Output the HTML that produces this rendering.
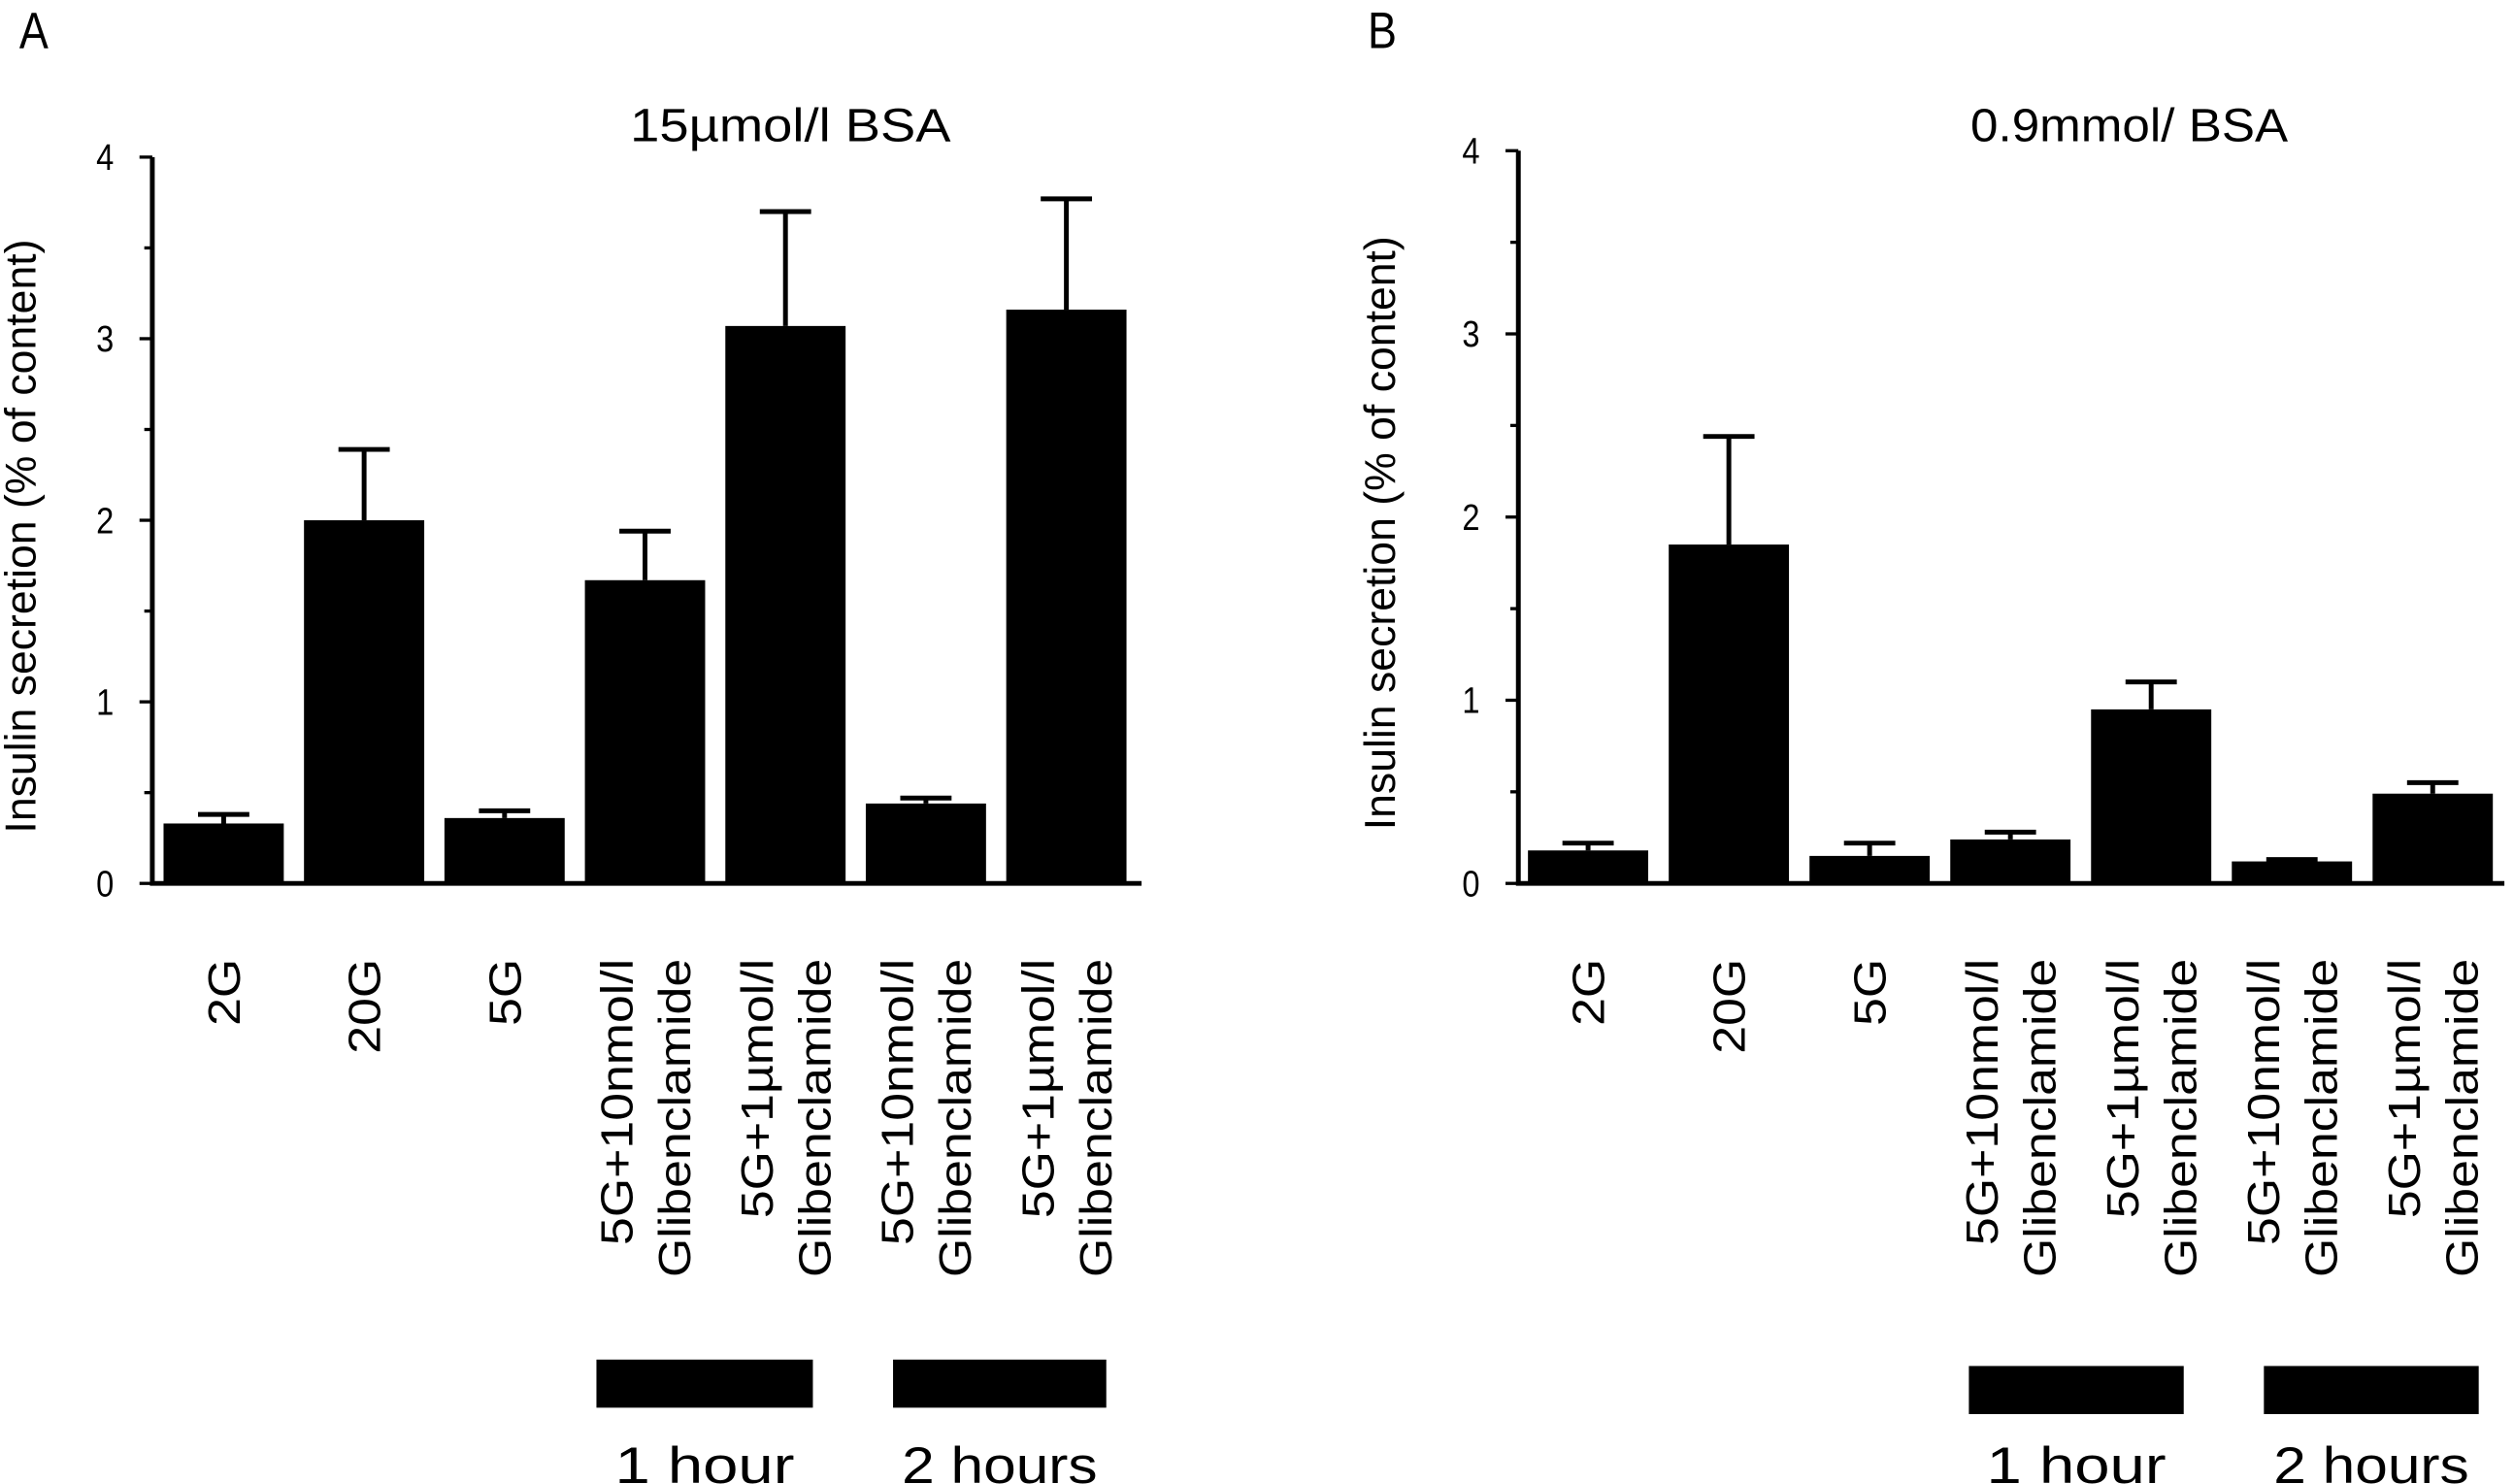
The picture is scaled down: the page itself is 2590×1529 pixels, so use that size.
<!DOCTYPE html>
<html><head><meta charset="utf-8"><style>
html,body{margin:0;padding:0;background:#fff}
svg{display:block}
text{font-family:"Liberation Sans",Arial,sans-serif;fill:#000}
</style></head><body>
<svg id="fig" width="2590" height="1529" viewBox="0 0 1568 925.6" preserveAspectRatio="none" xmlns="http://www.w3.org/2000/svg"></svg>
<script>
const categories = ["2G","20G","5G","5G+10nmol/l|Glibenclamide","5G+1\u00b5mol/l|Glibenclamide","5G+10nmol/l|Glibenclamide","5G+1\u00b5mol/l|Glibenclamide"];
const valuesA = [0.33, 2.0, 0.36, 1.67, 3.07, 0.44, 3.16];
const errorsA = [0.05, 0.39, 0.04, 0.27, 0.63, 0.03, 0.61];
const valuesB = [0.18, 1.85, 0.15, 0.24, 0.95, 0.12, 0.49];
const errorsB = [0.04, 0.59, 0.07, 0.04, 0.15, 0.01, 0.06];
const yTicks = [0, 1, 2, 3, 4];
const yMax = 4;

const NS = "http://www.w3.org/2000/svg";
const svg = document.getElementById("fig");
function mk(tag, attrs, parent) {
  const e = document.createElementNS(NS, tag);
  for (const k in attrs) e.setAttribute(k, attrs[k]);
  (parent || svg).appendChild(e);
  return e;
}

function panel(p) {
  const g = mk("g", {});
  
  
  const yScale = v => p.y0 - (v / yMax) * (p.y0 - p.y4);
  const xScale = i => p.barStart + i * p.step;

  const letter = mk("text", {x: p.letterX, y: 30, "font-size": 32, transform: `translate(${p.letterX},0) scale(0.85,1) translate(${-p.letterX},0)`}, g);
  letter.textContent = p.letter;
  
  

  const t = mk("text", {x: p.titleX - p.titleW / 2, y: 88, "font-size": 29, textLength: p.titleW, lengthAdjust: "spacingAndGlyphs"}, g);
  t.textContent = p.title;
  
  

  p.values.forEach((v, i) => {
    const x = xScale(i);
    const r = mk("rect", {x: x, y: yScale(v), width: p.barW, height: p.y0 - yScale(v), fill: "#000"}, g);
    
    
    const cx = x + p.barW / 2;
    const top = yScale(v + p.errors[i]);
    const eb = mk("path", {d: `M${cx},${yScale(v)}V${top}M${cx-16},${top}H${cx+16}`, stroke: "#000", "stroke-width": 3, fill: "none"}, g);
    
    
  });

  const ax = mk("path", {d: `M${p.axisX},${p.y4}V${p.y0}H${p.xEnd}`, stroke: "#000", "stroke-width": 3, fill: "none"}, g);
  
  
  for (let k = 0; k <= 8; k++) {
    const yy = yScale(k / 2);
    const tk = mk("line", {x1: p.axisX - (k % 2 ? 5 : 8), x2: p.axisX, y1: yy, y2: yy, stroke: "#000", "stroke-width": 2}, g);
    
    
  }
  yTicks.forEach(v => {
    const tl = mk("text", {x: p.axisX - 24, y: yScale(v) + 8, "font-size": 23, "text-anchor": "end", textLength: 11, lengthAdjust: "spacingAndGlyphs"}, g);
    tl.textContent = v;
    
    
  });
  const yt = mk("text", {x: 0, y: 0, "font-size": 27, "text-anchor": "middle", transform: `translate(${p.yTitleX},${(p.y0 + p.y4) / 2 + 10}) rotate(-90)`}, g);
  yt.textContent = "Insulin secretion (% of content)";
  
  

  categories.forEach((c, i) => {
    const cx = xScale(i) + p.barW / 2;
    const lines = c.split("|");
    lines.forEach((ln, j) => {
      const off = lines.length === 1 ? 10 : (j === 0 ? -8 : 28);
      const xl = mk("text", {x: 0, y: 0, "font-size": 28, "text-anchor": "end", transform: `translate(${cx + off},598) rotate(-90) scale(1.12,1)`}, g);
      xl.textContent = ln;
      
      
    });
  });

  p.timeBars.forEach((tb, k) => {
    const r = mk("rect", {x: tb[0], y: p.tbY, width: tb[1] - tb[0], height: 30, fill: "#000"}, g);
    
    
    const w = k === 0 ? 112 : 122;
    const tt = mk("text", {x: (tb[0] + tb[1]) / 2 - w / 2, y: 925, "font-size": 32, textLength: w, lengthAdjust: "spacingAndGlyphs"}, g);
    tt.textContent = k === 0 ? "1 hour" : "2 hours";
    
    
  });
}

panel({key: "a", letter: "A", letterX: 12, title: "15\u00b5mol/l BSA", titleX: 493, titleW: 200,
  axisX: 95, y0: 551, y4: 98, xEnd: 712, barStart: 102, step: 87.6, barW: 75,
  values: valuesA, errors: errorsA, yTitleX: 22, tbY: 848,
  timeBars: [[372, 507], [557, 690]]});
panel({key: "b", letter: "B", letterX: 853, title: "0.9mmol/ BSA", titleX: 1328, titleW: 198,
  axisX: 947, y0: 551, y4: 94, xEnd: 1562, barStart: 953, step: 87.8, barW: 75,
  values: valuesB, errors: errorsB, yTitleX: 870, tbY: 852,
  timeBars: [[1228, 1362], [1412, 1546]]});
</script>
</body></html>
